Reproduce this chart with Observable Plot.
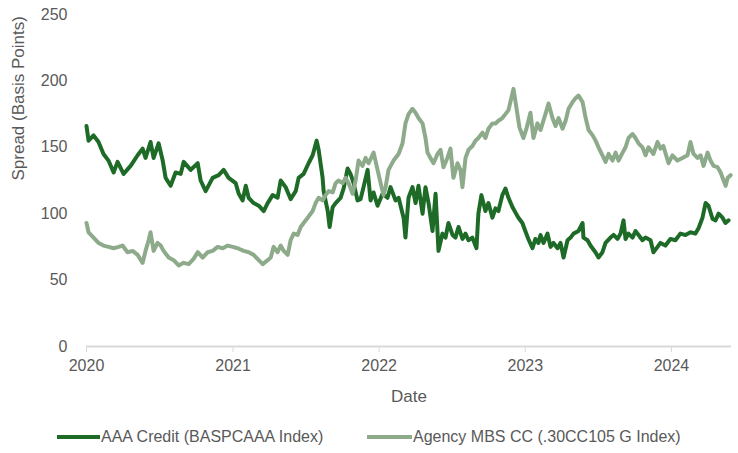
<!DOCTYPE html>
<html>
<head>
<meta charset="utf-8">
<script src="https://cdn.jsdelivr.net/npm/d3@7"></script>
<script src="https://cdn.jsdelivr.net/npm/@observablehq/plot@0.6"></script>
<style>
  body { margin: 0; background: #fff; font-family: "Liberation Sans", Arial, sans-serif; }
  #chart svg { display: block; }
  #legend { position: relative; width: 738px; height: 26px; margin-top: 8px; font-size: 16px; color: #595959; }
  .item { position: absolute; top: 0; display: flex; align-items: center; height: 22px; white-space: nowrap; }
  .swatch { height: 3.5px; margin-right: 1px; }
</style>
</head>
<body>
<div id="chart"></div>
<div id="legend"></div>
<script>
// Series names and colours
const seriesNames = ["AAA Credit (BASPCAAA Index)", "Agency MBS CC (.30CC105 G Index)"];
const seriesColors = ["#1d6b27", "#8dab8a"];

// AAA credit spread: observation time (decimal year) and spread in basis points
const aaaYears = [
  2020.000,2020.014,2020.048,2020.082,2020.116,2020.150,2020.185,2020.212,2020.253,2020.301,
  2020.349,2020.383,2020.403,2020.437,2020.458,2020.492,2020.520,2020.540,2020.574,2020.608,
  2020.643,2020.663,2020.711,2020.759,2020.779,2020.813,2020.861,2020.902,2020.936,2020.970,
  2021.018,2021.039,2021.066,2021.087,2021.107,2021.141,2021.176,2021.210,2021.237,2021.271,
  2021.305,2021.326,2021.360,2021.394,2021.429,2021.449,2021.483,2021.517,2021.545,2021.572,
  2021.586,2021.613,2021.620,2021.648,2021.661,2021.682,2021.702,2021.736,2021.757,2021.784,
  2021.804,2021.825,2021.852,2021.873,2021.893,2021.921,2021.941,2021.962,2021.989,
  2022.023,2022.057,2022.078,2022.112,2022.133,2022.167,2022.180,2022.201,2022.228,2022.249,
  2022.269,2022.297,2022.317,2022.338,2022.365,2022.386,2022.406,2022.433,2022.454,2022.474,
  2022.502,2022.522,2022.543,2022.570,2022.591,2022.611,2022.638,2022.666,2022.679,2022.700,
  2022.727,2022.748,2022.775,2022.796,2022.816,2022.843,2022.864,2022.885,2022.912,2022.932,
  2022.953,2022.980,
  2023.000,2023.021,2023.049,2023.069,2023.090,2023.104,2023.125,2023.152,2023.173,2023.193,
  2023.221,2023.241,2023.262,2023.289,2023.310,2023.330,2023.364,2023.392,2023.398,2023.426,
  2023.446,2023.480,2023.501,2023.528,2023.549,2023.583,2023.604,2023.631,2023.652,2023.672,
  2023.686,2023.706,2023.734,2023.754,2023.775,2023.802,2023.823,2023.857,2023.877,2023.905,
  2023.925,2023.959,2023.993,
  2024.027,2024.061,2024.096,2024.130,2024.164,2024.185,2024.212,2024.233,2024.253,2024.281,
  2024.301,2024.322,2024.349,2024.369,2024.390
];
const aaaSpread = [
  166,155,159,154,145,140,131,139,130,136,
  144,149,142,154,142,153,140,127,121,131,
  130,139,133,138,125,117,127,129,133,127,
  123,115,110,121,112,108,106,102,108,114,
  112,125,120,111,117,127,130,138,144,155,
  148,127,117,102,90,105,108,112,119,134,
  130,123,110,111,120,133,110,116,106,
  115,112,120,110,112,97,82,112,120,108,
  121,100,120,108,87,115,72,85,82,93,
  84,82,90,81,85,80,82,74,100,114,
  102,108,97,104,102,114,119,112,105,101,
  97,93,
  87,81,74,81,78,84,78,85,75,78,
  74,78,67,80,82,85,87,93,82,80,
  76,71,67,71,78,82,84,81,85,95,
  81,85,82,87,84,80,82,80,71,75,
  78,76,81,
  80,85,84,86,85,89,97,108,106,96,
  95,100,97,93,95
];

// Agency MBS current-coupon spread: observation time (decimal year) and spread in basis points
const mbsYears = [
  2020.000,2020.014,2020.048,2020.082,2020.116,2020.150,2020.185,2020.219,2020.246,2020.280,
  2020.315,2020.349,2020.383,2020.403,2020.424,2020.437,2020.458,2020.485,2020.506,2020.526,
  2020.561,2020.595,2020.629,2020.663,2020.697,2020.731,2020.759,2020.793,2020.827,2020.861,
  2020.895,2020.930,2020.964,2020.998,
  2021.032,2021.073,2021.107,2021.141,2021.176,2021.203,2021.237,2021.258,2021.278,2021.305,
  2021.326,2021.347,2021.374,2021.394,2021.415,2021.442,2021.463,2021.483,2021.511,2021.545,
  2021.565,2021.586,2021.613,2021.634,2021.654,2021.682,2021.702,2021.722,2021.750,2021.770,
  2021.791,2021.818,2021.839,2021.859,2021.886,2021.907,2021.928,2021.962,2021.989,
  2022.010,2022.030,2022.044,2022.064,2022.098,2022.133,2022.160,2022.180,2022.201,2022.228,
  2022.249,2022.269,2022.297,2022.317,2022.331,2022.351,2022.372,2022.399,2022.420,2022.440,
  2022.467,2022.488,2022.508,2022.536,2022.556,2022.570,2022.591,2022.611,2022.638,2022.659,
  2022.679,2022.707,2022.727,2022.748,2022.775,2022.796,2022.816,2022.843,2022.864,2022.885,
  2022.919,2022.939,2022.960,2022.987,
  2023.008,2023.035,2023.056,2023.083,2023.104,2023.138,2023.159,2023.186,2023.207,2023.228,
  2023.255,2023.276,2023.296,2023.323,2023.344,2023.364,2023.392,2023.413,2023.433,2023.461,
  2023.481,2023.501,2023.528,2023.549,2023.570,2023.597,2023.618,2023.638,2023.666,2023.686,
  2023.706,2023.734,2023.754,2023.775,2023.802,2023.823,2023.843,2023.877,2023.905,2023.925,
  2023.945,2023.980,
  2024.007,2024.041,2024.075,2024.110,2024.130,2024.151,2024.178,2024.199,2024.219,2024.247,
  2024.267,2024.288,2024.315,2024.336,2024.356,2024.370,2024.384,2024.404
];
const mbsSpread = [
  93,86,82,78,76,75,74,75,76,71,
  72,69,63,72,80,86,72,78,76,72,
  67,65,61,63,62,66,71,67,71,72,
  75,74,76,75,
  74,72,71,69,65,62,65,67,75,71,
  76,72,69,80,85,84,90,93,97,102,
  108,112,110,114,117,116,123,125,123,127,
  123,115,125,140,136,142,138,146,133,
  123,114,120,133,140,145,153,168,175,179,
  176,172,168,157,146,142,138,145,148,135,
  142,149,127,138,133,120,142,148,151,155,
  157,161,157,164,168,168,170,172,175,178,
  194,180,165,157,
  164,176,157,168,163,175,183,172,166,172,
  164,170,179,184,187,189,184,172,163,159,
  155,150,144,139,145,140,146,140,146,150,
  157,160,157,153,150,144,150,145,154,149,
  151,138,
  144,140,142,144,154,145,142,144,136,146,
  140,136,135,131,125,121,127,129
];

// Axis ticks
const yearTicks = [2020, 2021, 2022, 2023, 2024];
const spreadTicks = [0, 50, 100, 150, 200, 250];
const xLabel = "Date";
const yLabel = "Spread (Basis Points)";

// Decimal year -> UTC Date
function toDate(t) {
  const y = Math.floor(t);
  const a = Date.UTC(y, 0, 1), b = Date.UTC(y + 1, 0, 1);
  return new Date(a + (t - y) * (b - a));
}

const aaa = aaaYears.map((t, i) => ({date: toDate(t), spread: aaaSpread[i]}));
const mbs = mbsYears.map((t, i) => ({date: toDate(t), spread: mbsSpread[i]}));

const font = '"Liberation Sans", Arial, sans-serif';
const textColor = "#595959";

const chart = Plot.plot({
  width: 738,
  height: 418,
  marginLeft: 86,
  marginRight: 7,
  marginTop: 14,
  marginBottom: 72,
  style: {fontFamily: font, fontSize: "16px", background: "#fff", color: textColor},
  x: {type: "utc", domain: [toDate(2020), toDate(2024.41)]},
  y: {domain: [0, 250]},
  marks: [
    Plot.ruleY([0], {stroke: "#d9d9d9", strokeWidth: 2}),
    Plot.axisY({ticks: spreadTicks, tickSize: 0, tickPadding: 19, label: null, fill: textColor}),
    Plot.axisX({
      ticks: yearTicks.map(toDate),
      tickFormat: d3.utcFormat("%Y"),
      tickSize: 6,
      tickPadding: 7,
      stroke: "#d9d9d9",
      fill: textColor,
      label: null
    }),
    Plot.lineY(aaa, {x: "date", y: "spread", stroke: seriesColors[0], strokeWidth: 4}),
    Plot.lineY(mbs, {x: "date", y: "spread", stroke: seriesColors[1], strokeWidth: 4}),
    Plot.text([xLabel], {frameAnchor: "bottom", dy: 55, fill: textColor, fontSize: 17}),
    Plot.text([yLabel], {frameAnchor: "left", dx: -68, rotate: -90, fill: textColor, fontSize: 17})
  ]
});
document.getElementById("chart").append(chart);

// Legend below the chart
const legend = document.getElementById("legend");
const legendLeft = [57, 367];
seriesNames.forEach((name, i) => {
  const item = document.createElement("div");
  item.className = "item";
  item.style.left = legendLeft[i] + "px";
  const sw = document.createElement("span");
  sw.className = "swatch";
  sw.style.width = (i === 0 ? 43 : 45) + "px";
  sw.style.background = seriesColors[i];
  const label = document.createElement("span");
  label.textContent = name;
  item.append(sw, label);
  legend.append(item);
});
</script>
</body>
</html>
